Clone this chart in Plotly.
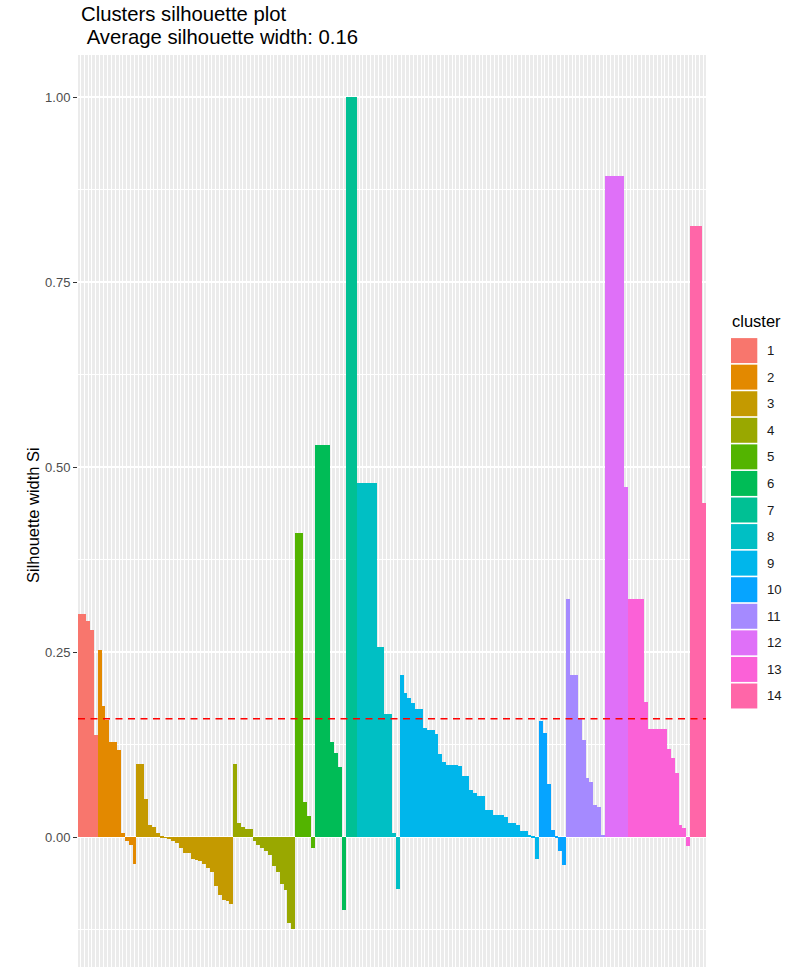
import plotly.graph_objects as go

# ---------------- data ----------------
TITLE = "Clusters silhouette plot"
SUBTITLE = "\u00a0Average silhouette width: 0.16"
Y_TITLE = "Silhouette width Si"
LEGEND_TITLE = "cluster"
AVG_SIL = 0.16

CLUSTERS = ["1", "2", "3", "4", "5", "6", "7", "8", "9", "10", "11", "12", "13", "14"]
COLORS = ["#F8766D", "#E38900", "#C49A00", "#99A800", "#53B400", "#00BC56", "#00C094",
          "#00BFC4", "#00B6EB", "#06A4FF", "#A58AFF", "#DF70F8", "#FB61D7", "#FF66A8"]

S1 = [0.302, 0.302, 0.292, 0.280, 0.138]
S2 = [0.253, 0.177, 0.158, 0.129, 0.129, 0.118, 0.006, -0.005, -0.011, -0.036]
S3 = [0.099, 0.099, 0.052, 0.016, 0.014, 0.006, 0.001, -0.001, -0.002, -0.005,
      -0.0086, -0.015, -0.021, -0.021, -0.030, -0.031, -0.033, -0.036, -0.042, -0.047,
      -0.066, -0.079, -0.085, -0.087, -0.091]
S4 = [0.099, 0.019, 0.014, 0.011, 0.011, -0.006, -0.011, -0.015, -0.0185, -0.024,
      -0.039, -0.047, -0.063, -0.072, -0.116, -0.124]
S5 = [0.411, 0.411, 0.047, 0.029, -0.015]
S6 = [0.530, 0.530, 0.530, 0.530, 0.128, 0.114, 0.095, -0.099]
S7 = [1.0, 1.0, 1.0]
S8 = [0.478, 0.478, 0.478, 0.478, 0.478, 0.257, 0.257, 0.166, 0.166, 0.006, -0.070]
S9 = [0.219, 0.194, 0.188, 0.181, 0.1725, 0.1725, 0.148, 0.144, 0.144, 0.139,
      0.112, 0.101, 0.097, 0.097, 0.097, 0.096, 0.082, 0.082, 0.064, 0.059,
      0.055, 0.055, 0.037, 0.037, 0.030, 0.030, 0.030, 0.027, 0.0185, 0.0185,
      0.016, 0.0086, 0.0086, 0.003, 0.001, -0.030]
S10 = [0.157, 0.141, 0.072, 0.009, 0.001, -0.019, -0.038]
S11 = [0.321, 0.219, 0.219, 0.161, 0.131, 0.080, 0.075, 0.043, 0.041, 0.003]
S12 = [0.893, 0.893, 0.893, 0.893, 0.893, 0.473]
S13 = [0.322, 0.322, 0.322, 0.322, 0.182, 0.1455, 0.1455, 0.1455, 0.1455, 0.1455,
       0.119, 0.107, 0.086, 0.016, 0.012, -0.012]
S14 = [0.826, 0.826, 0.826, 0.451]

SIL = [S1, S2, S3, S4, S5, S6, S7, S8, S9, S10, S11, S12, S13, S14]

# ---------------- layout constants ----------------
W, H = 792, 967
ML, MR, MT, MB = 78, 86, 55, 0
PW, PH = W - ML - MR, H - MT - MB
FONT = "Liberation Sans, Arial, Helvetica, sans-serif"


def px_x(p):
    return (p - ML) / PW


def px_y(p):
    return (H - MB - p) / PH


fig = go.Figure()
pos = 0
for name, col, vals in zip(CLUSTERS, COLORS, SIL):
    xs = list(range(pos + 1, pos + 1 + len(vals)))
    pos += len(vals)
    fig.add_trace(go.Bar(x=xs, y=vals, name=name, width=1.0,
                         marker=dict(color=col, line=dict(width=0)),
                         showlegend=False))
n_total = pos

# y range mimicking ggplot expansion, clipped by the page bottom
y_top = 1.0568
y_bot = y_top - PH / 740.0

fig.update_layout(
    width=W, height=H,
    margin=dict(l=ML, r=MR, t=MT, b=MB, pad=0),
    paper_bgcolor="white", plot_bgcolor="#EBEBEB",
    barmode="overlay", bargap=0,
    font=dict(family=FONT, color="#000000"),
    xaxis=dict(range=[0.4, n_total + 0.6], tickmode="linear", tick0=1, dtick=1,
               showticklabels=False, ticks="", showgrid=True, gridcolor="white",
               gridwidth=1, zeroline=False, showline=False, fixedrange=True),
    yaxis=dict(range=[y_bot, y_top], tickmode="array",
               tickvals=[0, 0.25, 0.5, 0.75, 1.0],
               ticktext=["0.00", "0.25", "0.50", "0.75", "1.00"],
               ticks="outside", ticklen=4, tickwidth=1, tickcolor="#333333",
               tickfont=dict(size=13, color="#4D4D4D", family=FONT),
               showgrid=True, gridcolor="white", gridwidth=1.6,
               minor=dict(tickvals=[-0.125, 0.125, 0.375, 0.625, 0.875],
                          showgrid=True, gridcolor="white", gridwidth=0.8, ticks=""),
               zeroline=False, showline=False, fixedrange=True),
)

# average silhouette line
fig.add_shape(type="line", xref="paper", yref="y", x0=0, x1=1, y0=AVG_SIL, y1=AVG_SIL,
              line=dict(color="#FF0000", width=1.5, dash="7px,5.5px"), layer="above")

# titles
fig.add_annotation(text=TITLE, xref="paper", yref="paper", x=px_x(79), y=px_y(14),
                   xanchor="left", yanchor="middle", showarrow=False,
                   font=dict(size=20.3, color="#000000", family=FONT))
fig.add_annotation(text=SUBTITLE, xref="paper", yref="paper", x=px_x(79), y=px_y(36.5),
                   xanchor="left", yanchor="middle", showarrow=False,
                   font=dict(size=20.3, color="#000000", family=FONT))
fig.add_annotation(text=Y_TITLE, xref="paper", yref="paper", x=px_x(33), y=px_y(515),
                   xanchor="center", yanchor="middle", textangle=-90, showarrow=False,
                   font=dict(size=16.5, color="#000000", family=FONT))

# manual legend (ggplot style square keys)
fig.add_annotation(text=LEGEND_TITLE, xref="paper", yref="paper", x=px_x(730), y=px_y(321),
                   xanchor="left", yanchor="middle", showarrow=False,
                   font=dict(size=16.5, color="#000000", family=FONT))
key_top, key_h, key_w, key_left = 337.3, 26.57, 26.3, 731
for i, (name, col) in enumerate(zip(CLUSTERS, COLORS)):
    t = key_top + i * key_h
    fig.add_shape(type="rect", xref="paper", yref="paper",
                  x0=px_x(key_left), x1=px_x(key_left + key_w),
                  y0=px_y(t + key_h - 0.8), y1=px_y(t + 0.8),
                  fillcolor=col, line=dict(width=0), layer="above")
    fig.add_annotation(text=name, xref="paper", yref="paper",
                       x=px_x(765), y=px_y(t + key_h / 2),
                       xanchor="left", yanchor="middle", showarrow=False,
                       font=dict(size=13.2, color="#1A1A1A", family=FONT))

fig.write_html("out.html")
